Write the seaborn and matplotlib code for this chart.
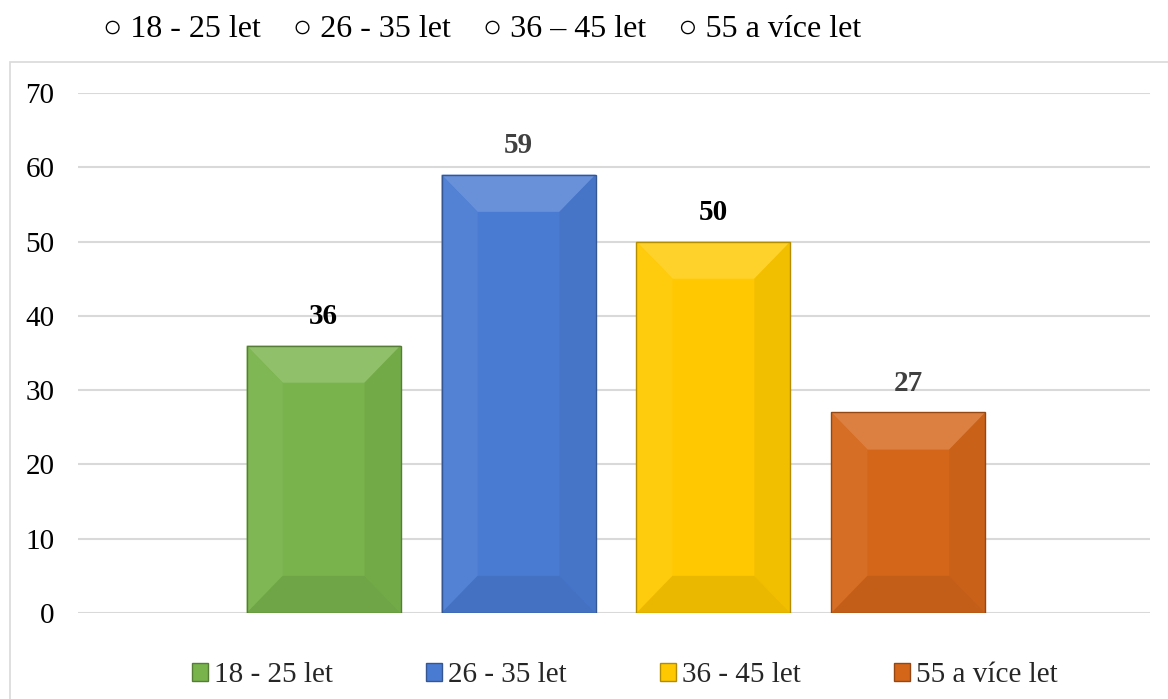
import numpy as np
import matplotlib
matplotlib.use("Agg")
import matplotlib.pyplot as plt
import matplotlib.colors as mcolors
from matplotlib.patches import Polygon, Rectangle
import seaborn as sns

# Data
categories = ["18 - 25 let", "26 - 35 let", "36 - 45 let", "55 a více let"]
values = [36, 59, 50, 27]
bar_colors = ["#79b34c", "#4a7bd2", "#ffc800", "#d4661a"]
label_colors = ["#000000", "#404040", "#000000", "#404040"]
top_items = ["18 - 25 let", "26 - 35 let", "36 – 45 let", "55 a více let"]
y_ticks = [0, 10, 20, 30, 40, 50, 60, 70]

sns.set_theme(style="white")
plt.rcParams["font.family"] = ["Liberation Serif", "DejaVu Serif"]


def shade(color, amount):
    # amount > 0 -> lighter, < 0 -> darker
    rgb = np.array(mcolors.to_rgb(color))
    if amount >= 0:
        rgb = rgb + (1 - rgb) * amount
    else:
        rgb = rgb * (1 + amount)
    return tuple(np.clip(rgb, 0, 1))


fig = plt.figure(figsize=(11.68, 6.99), dpi=100)
ax = fig.add_axes([0.0668, 0.123, 0.9178, 0.744])

# outer chart border
fig.patches.append(Rectangle((0.0086, -0.02), 1.0, 0.931, transform=fig.transFigure,
                             fill=False, edgecolor="#d9d9d9", linewidth=1.2))

sns.barplot(x=categories, y=values, hue=categories, palette=bar_colors,
            width=0.79, dodge=False, legend=False, ax=ax, zorder=3,
            edgecolor="none", saturation=1)

ax.set_xlim(-1.26, 4.24)
ax.set_ylim(0, 70)
ax.set_yticks(y_ticks)
ax.yaxis.grid(True, color="#d9d9d9", linewidth=1.5, zorder=0)
ax.xaxis.grid(False)
ax.set_axisbelow(True)
for s in ax.spines.values():
    s.set_visible(False)
ax.set_xticks([])
ax.set_xlabel("")
ax.set_ylabel("")
ax.tick_params(axis="y", length=0, pad=17, labelsize=21, labelcolor="#000000")

# bevel effect on the bars
bx = 0.185
by = 5.0
for patch, col in zip(ax.patches, bar_colors):
    x0 = patch.get_x()
    w = patch.get_width()
    h = patch.get_height()
    x1 = x0 + w
    top = Polygon([(x0, h), (x1, h), (x1 - bx, h - by), (x0 + bx, h - by)],
                  closed=True, facecolor=shade(col, 0.17), edgecolor="none", zorder=4)
    left = Polygon([(x0, 0), (x0, h), (x0 + bx, h - by), (x0 + bx, by)],
                   closed=True, facecolor=shade(col, 0.05), edgecolor="none", zorder=4)
    right = Polygon([(x1, 0), (x1, h), (x1 - bx, h - by), (x1 - bx, by)],
                    closed=True, facecolor=shade(col, -0.05), edgecolor="none", zorder=4)
    bottom = Polygon([(x0, 0), (x1, 0), (x1 - bx, by), (x0 + bx, by)],
                     closed=True, facecolor=shade(col, -0.08), edgecolor="none", zorder=4)
    for p in (top, left, right, bottom):
        ax.add_patch(p)
    ax.add_patch(Rectangle((x0, 0), w, h, fill=False,
                           edgecolor=shade(col, -0.3), linewidth=1.0, zorder=5))

# value labels
for patch, v, lc in zip(ax.patches[:len(values)], values, label_colors):
    ax.annotate(str(v), (patch.get_x() + patch.get_width() / 2, v),
                xytext=(0, 11), textcoords="offset points", ha="center", va="bottom",
                fontsize=21, fontweight="bold", color=lc)

# top line of categories
top_text = "    ".join("○ " + t for t in top_items)
fig.text(0.088, 0.958, top_text, fontsize=23, va="center", ha="left", color="#000000")

# legend at bottom
handles = [Rectangle((0, 0), 1, 1, facecolor=c, edgecolor=shade(c, -0.3)) for c in bar_colors]
fig.legend(handles, categories, loc="center", bbox_to_anchor=(0.535, 0.034), ncol=4,
           frameon=False, fontsize=21, handlelength=0.55, handleheight=0.55,
           handletextpad=0.2, columnspacing=3.2)

fig.savefig("out.png", dpi=100)
